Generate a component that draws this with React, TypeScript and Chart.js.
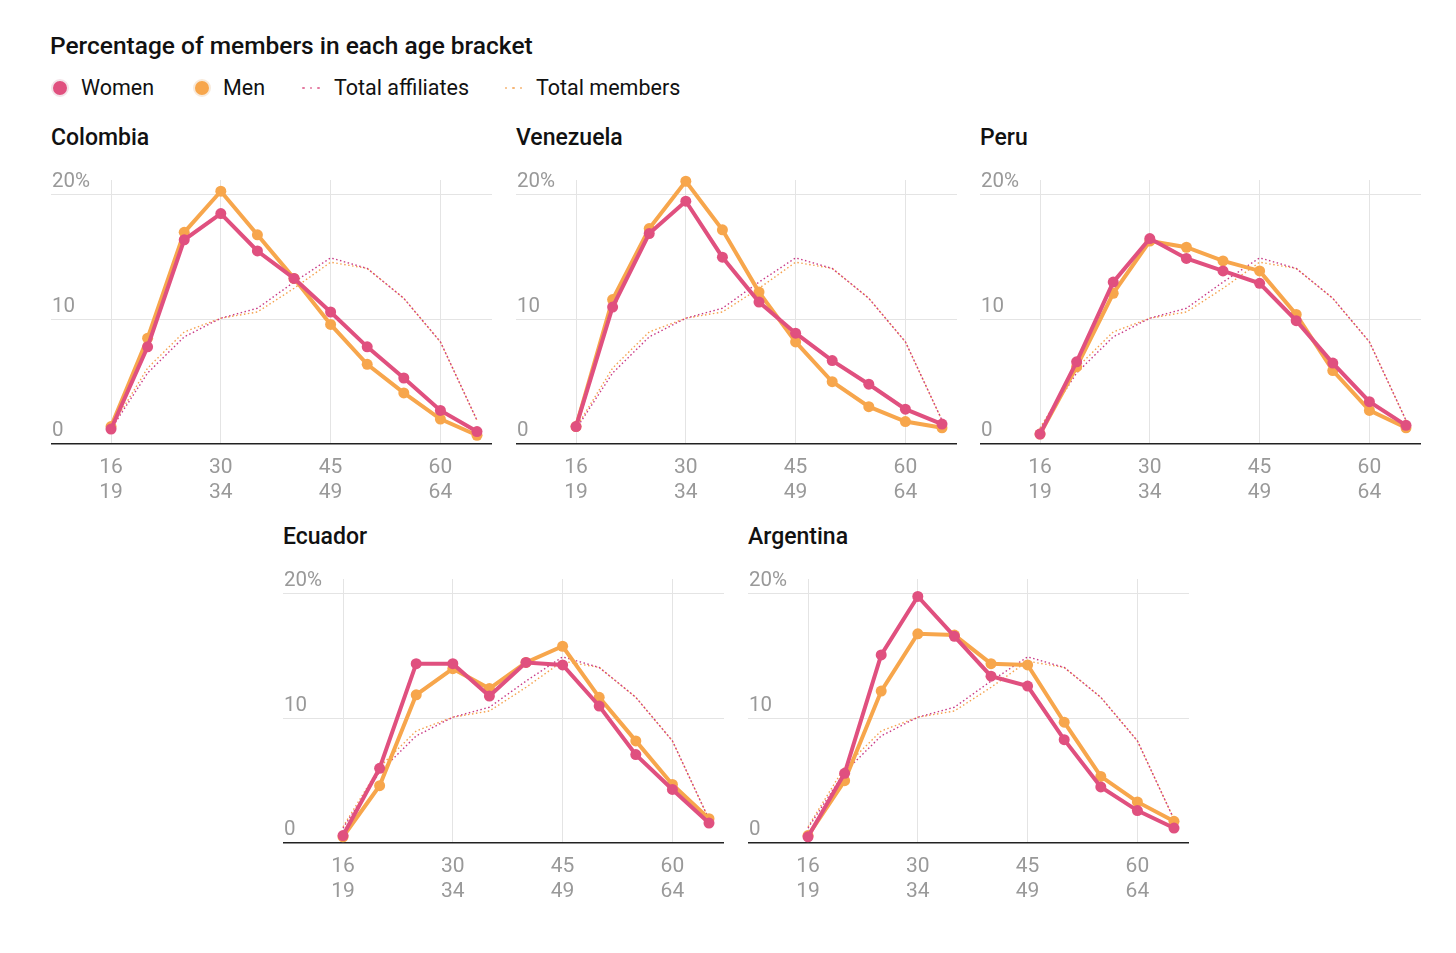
import React, { useEffect, useRef } from 'react';
import { Chart, registerables } from 'chart.js';

Chart.register(...registerables);

const FONT = 'Roboto, "Noto Sans", sans-serif';

const ageBrackets = ['16–19', '20–24', '25–29', '30–34', '35–39', '40–44', '45–49', '50–54', '55–59', '60–64', '65+'];
const xTickIndex = [0, 3, 6, 9];
const xTickTop = ['16', '30', '45', '60'];
const xTickBottom = ['19', '34', '49', '64'];
const yTickValues = [0, 10, 20];
const yTickLabels = ['0', '10', '20%'];

const totalAffiliates = [1.2, 5.7, 8.6, 10.1, 10.9, 13.0, 14.95, 14.1, 11.7, 8.2, 1.9];
const totalMembers = [1.3, 6.1, 9.0, 10.1, 10.6, 12.5, 14.6, 14.1, 11.7, 8.2, 1.9];

const colombiaWomen = [1.2, 7.8, 16.4, 18.5, 15.5, 13.3, 10.6, 7.8, 5.3, 2.7, 1.0];
const colombiaMen = [1.4, 8.5, 17.0, 20.3, 16.8, 13.3, 9.6, 6.4, 4.1, 2.0, 0.7];
const venezuelaWomen = [1.4, 11.0, 16.9, 19.5, 15.0, 11.4, 8.9, 6.7, 4.8, 2.8, 1.6];
const venezuelaMen = [1.4, 11.6, 17.3, 21.1, 17.2, 12.2, 8.2, 5.0, 3.0, 1.8, 1.3];
const peruWomen = [0.8, 6.6, 13.0, 16.5, 14.9, 13.9, 12.9, 9.9, 6.5, 3.4, 1.5];
const peruMen = [0.8, 6.2, 12.1, 16.3, 15.8, 14.7, 13.9, 10.4, 5.9, 2.7, 1.3];
const ecuadorWomen = [0.6, 6.0, 14.4, 14.4, 11.8, 14.5, 14.3, 11.0, 7.1, 4.3, 1.6];
const ecuadorMen = [0.5, 4.6, 11.9, 14.0, 12.4, 14.5, 15.8, 11.7, 8.2, 4.7, 1.95];
const argentinaWomen = [0.5, 5.6, 15.1, 19.8, 16.6, 13.4, 12.6, 8.3, 4.5, 2.6, 1.2];
const argentinaMen = [0.6, 5.0, 12.2, 16.8, 16.7, 14.4, 14.3, 9.7, 5.35, 3.3, 1.74];

const WOMEN = '#e0507f';
const MEN = '#f7a64c';
const AFFIL = '#c93a86';
const MEMB = '#f5a24e';

const toPoints = (vals: number[]) => vals.map((v, i) => ({ x: i, y: v }));

type PanelProps = { title: string; women: number[]; men: number[]; left: number; top: number };

const CW = 441;
const CH = 344;

function Panel({ title, women, men, left, top }: PanelProps) {
  const ref = useRef<HTMLCanvasElement | null>(null);
  useEffect(() => {
    if (!ref.current) return;
    const chart = new Chart(ref.current, {
      type: 'line',
      data: {
        labels: ageBrackets,
        datasets: [
          {
            label: 'Women',
            data: toPoints(women),
            borderColor: WOMEN,
            backgroundColor: WOMEN,
            borderWidth: 4,
            pointRadius: 5.5,
            pointBorderWidth: 0,
            pointBackgroundColor: WOMEN,
            clip: false as any,
          },
          {
            label: 'Men',
            data: toPoints(men),
            borderColor: MEN,
            backgroundColor: MEN,
            borderWidth: 4,
            pointRadius: 5.5,
            pointBorderWidth: 0,
            pointBackgroundColor: MEN,
            clip: false as any,
          },
          {
            label: 'Total affiliates',
            data: toPoints(totalAffiliates),
            borderColor: AFFIL,
            borderWidth: 1.4,
            borderDash: [1.5, 2.5],
            pointRadius: 0,
            clip: false as any,
          },
          {
            label: 'Total members',
            data: toPoints(totalMembers),
            borderColor: MEMB,
            borderWidth: 1.4,
            borderDash: [1.5, 2.5],
            pointRadius: 0,
            clip: false as any,
          },
        ],
      },
      options: {
        responsive: false,
        animation: false,
        layout: { autoPadding: false, padding: { top: 20, left: 0, right: 0, bottom: 0 } },
        plugins: { legend: { display: false }, tooltip: { enabled: false } },
        scales: {
          x: {
            type: 'linear',
            min: -1.64,
            max: 10.41,
            afterBuildTicks: (scale: any) => {
              scale.ticks = xTickIndex.map((v) => ({ value: v }));
            },
            afterFit: (scale: any) => {
              scale.height = 60;
            },
            grid: { color: '#e4e4e4', lineWidth: 1, drawTicks: false },
            border: { display: true, color: '#222', width: 1.5 },
            ticks: {
              padding: 11,
              color: '#999',
              font: { family: FONT, size: 21, lineHeight: 1.19 },
              callback: (v: any) => {
                const k = xTickIndex.indexOf(Number(v));
                return k >= 0 ? [xTickTop[k], xTickBottom[k]] : '';
              },
              maxRotation: 0,
              autoSkip: false,
            },
          },
          y: {
            min: 0,
            max: 21.2,
            afterBuildTicks: (scale: any) => {
              scale.ticks = yTickValues.map((v) => ({ value: v }));
            },
            afterFit: (scale: any) => {
              scale.width = 0;
            },
            grid: {
              color: (ctx: any) => (ctx.tick && ctx.tick.value === 0 ? 'rgba(0,0,0,0)' : '#e4e4e4'),
              lineWidth: 1,
              drawTicks: false,
            },
            border: { display: false },
            ticks: {
              mirror: true,
              padding: 1,
              labelOffset: -13,
              color: '#999',
              font: { family: FONT, size: 20.5 },
              callback: (v: any) => {
                const k = yTickValues.indexOf(Number(v));
                return k >= 0 ? yTickLabels[k] : '';
              },
            },
          },
        },
      },
    });
    return () => chart.destroy();
  }, [women, men]);

  return (
    <>
      <div
        style={{
          position: 'absolute',
          left: left,
          top: top - 35,
          fontFamily: FONT,
          fontSize: 23,
          fontWeight: 500,
          lineHeight: '26px',
          color: '#111',
          whiteSpace: 'nowrap',
        }}
      >
        {title}
      </div>
      <canvas
        ref={ref}
        width={CW}
        height={CH}
        style={{ position: 'absolute', left: left, top: top, width: CW, height: CH }}
      />
    </>
  );
}

function LegendDot({ color, ring, x }: { color: string; ring: string; x: number }) {
  return (
    <div
      style={{
        position: 'absolute',
        left: x - 9,
        top: 88 - 9,
        width: 14,
        height: 14,
        borderRadius: '50%',
        background: color,
        border: `2px solid ${ring}`,
      }}
    />
  );
}

function LegendDots({ color, x }: { color: string; x: number }) {
  return (
    <>
      {[0, 1, 2].map((i) => (
        <div
          key={i}
          style={{
            position: 'absolute',
            left: x + i * 7.5 - 1.25,
            top: 88 - 1.25,
            width: 2.5,
            height: 2.5,
            borderRadius: '50%',
            background: color,
          }}
        />
      ))}
    </>
  );
}

function LegendText({ text, x }: { text: string; x: number }) {
  return (
    <div
      style={{
        position: 'absolute',
        left: x,
        top: 88 - 13,
        fontFamily: FONT,
        fontSize: 21.5,
        lineHeight: '26px',
        color: '#111',
        whiteSpace: 'nowrap',
      }}
    >
      {text}
    </div>
  );
}

export default function App() {
  return (
    <div style={{ position: 'absolute', left: 0, top: 0, width: 1456, height: 953, background: '#fff', overflow: 'hidden' }}>
      <div
        style={{
          position: 'absolute',
          left: 50,
          top: 32,
          fontFamily: FONT,
          fontSize: 24.5,
          fontWeight: 500,
          lineHeight: '28px',
          color: '#111',
          whiteSpace: 'nowrap',
        }}
      >
        Percentage of members in each age bracket
      </div>
      <LegendDot color={WOMEN} ring="#f3e4e9" x={60} />
      <LegendText text="Women" x={81} />
      <LegendDot color={MEN} ring="#f8eadb" x={202} />
      <LegendText text="Men" x={223} />
      <LegendDots color="#e37aa0" x={303.5} />
      <LegendText text="Total affiliates" x={334} />
      <LegendDots color="#f6b676" x={506} />
      <LegendText text="Total members" x={536} />

      <Panel title="Colombia" women={colombiaWomen} men={colombiaMen} left={51} top={160} />
      <Panel title="Venezuela" women={venezuelaWomen} men={venezuelaMen} left={516} top={160} />
      <Panel title="Peru" women={peruWomen} men={peruMen} left={980} top={160} />
      <Panel title="Ecuador" women={ecuadorWomen} men={ecuadorMen} left={283} top={558.5} />
      <Panel title="Argentina" women={argentinaWomen} men={argentinaMen} left={748} top={558.5} />
    </div>
  );
}
